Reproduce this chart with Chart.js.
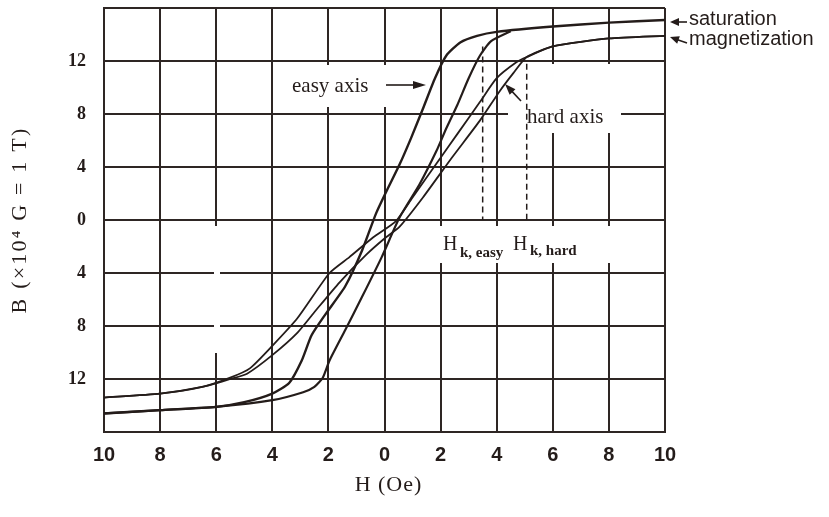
<!DOCTYPE html>
<html><head><meta charset="utf-8">
<script src="https://cdn.jsdelivr.net/npm/chart.js@4.4.1/dist/chart.umd.min.js"></script>
<style>html,body{margin:0;padding:0;background:#fff;} canvas{display:block;}</style>
</head><body>
<canvas id="c" width="829" height="517"></canvas>
<script>
// ---- tick definitions ----
const X_TICKS = [-10,-8,-6,-4,-2,0,2,4,6,8,10];
const X_TICK_LABELS = ['10','8','6','4','2','0','2','4','6','8','10'];
const Y_TICKS = [-16,-12,-8,-4,0,4,8,12,16];
const Y_TICK_LABELS = ['','12','8','4','0','4','8','12',''];
const X_TITLE = 'H (Oe)';
const Y_TITLE = 'B (×10\u2074 G = 1 T)';

// ---- easy axis loop (H in Oe, B in 10^4 G) ----
const EASY_UPPER_H = [10, 8, 6, 4, 3.3, 2.7, 2.2, 1.8, 1.37, 0.95, 0.54, 0.1, -0.3, -0.8, -1.4, -2.1, -2.6, -2.95, -3.4, -4.0, -5.0, -6.0, -8.0, -10];
const EASY_UPPER_B = [15.1, 14.9, 14.6, 14.2, 13.9, 13.4, 12.4, 10.7, 8.4, 6.2, 4.2, 2.3, 0.5, -2.3, -5.0, -7.1, -8.7, -10.6, -12.3, -13.1, -13.75, -14.1, -14.35, -14.6];
const EASY_LOWER_H = [-10, -8, -6, -4, -2.9, -2.5, -2.2, -1.96, -1.4, -0.8, -0.1, 0.54, 1.25, 1.85, 2.2, 2.6, 3.0, 3.4, 3.8, 4.5];
const EASY_LOWER_B = [-14.6, -14.35, -14.1, -13.6, -13.0, -12.6, -11.9, -10.6, -8.3, -5.8, -2.8, 0.2, 2.7, 5.2, 6.9, 8.7, 10.7, 12.4, 13.5, 14.25];

// ---- hard axis loop ----
const HARD_UPPER_H = [10, 8, 6, 5.07, 4.7, 4.0, 3.4, 2.6, 2.0, 1.0, 0.4, -0.4, -1.25, -1.96, -3.1, -4.0, -4.8, -5.5, -6.5, -8, -10];
const HARD_UPPER_B = [13.9, 13.7, 13.1, 12.3, 11.9, 10.7, 8.9, 6.5, 4.7, 1.7, -0.1, -1.3, -2.8, -4.0, -7.4, -9.5, -11.2, -11.9, -12.6, -13.1, -13.4];
const HARD_LOWER_H = [-10, -8, -6.5, -5.5, -4.9, -4.0, -3.1, -2.4, -1.6, -0.64, 0.0, 0.54, 1.37, 2.4, 3.4, 4.1, 4.6, 5.07, 6, 8, 10];
const HARD_LOWER_B = [-13.4, -13.1, -12.6, -12.0, -11.6, -10.2, -8.5, -6.7, -4.7, -2.6, -1.4, -0.5, 1.7, 4.7, 7.5, 9.7, 11.1, 12.3, 13.1, 13.7, 13.9];

// ---- anisotropy field markers ----
const HK_EASY_H = [3.5, 3.5];
const HK_EASY_B = [13.1, 0];
const HK_HARD_H = [5.07, 5.07];
const HK_HARD_B = [11.8, 0];

const INK = '#241c1a';
const GRID = '#2e2624';

function pts(h, b) { return h.map((x, i) => ({ x: x, y: b[i] })); }

function curve(label, h, b, w) {
  return { label, data: pts(h, b), showLine: true, pointRadius: 0, borderColor: INK,
           borderWidth: w, tension: 0.2, fill: false };
}
function dashed(label, h, b) {
  return { label, data: pts(h, b), showLine: true, pointRadius: 0, borderColor: INK,
           borderWidth: 1.5, borderDash: [6, 4], fill: false };
}

function arrow(ctx, x1, y1, x2, y2, len, half) {
  const a = Math.atan2(y2 - y1, x2 - x1);
  ctx.beginPath(); ctx.moveTo(x1, y1);
  ctx.lineTo(x2 - Math.cos(a) * len * 0.8, y2 - Math.sin(a) * len * 0.8); ctx.stroke();
  ctx.beginPath();
  ctx.moveTo(x2, y2);
  ctx.lineTo(x2 - Math.cos(a) * len - Math.sin(a) * half, y2 - Math.sin(a) * len + Math.cos(a) * half);
  ctx.lineTo(x2 - Math.cos(a) * len + Math.sin(a) * half, y2 - Math.sin(a) * len - Math.cos(a) * half);
  ctx.closePath(); ctx.fill();
}

const annot = {
  id: 'annot',
  beforeDatasetsDraw(chart) {
    const ctx = chart.ctx;
    ctx.save();
    ctx.fillStyle = '#ffffff';
    ctx.fillRect(285, 65, 103, 42);   // easy axis label box
    ctx.fillRect(508, 64, 113, 69);   // hard axis label box
    ctx.fillRect(433, 226, 230, 37);  // Hk label box
    ctx.fillRect(214, 226, 6, 127);   // missing grid segment
    ctx.restore();
  },
  afterDraw(chart) {
    const ctx = chart.ctx;
    const ca = chart.chartArea;
    ctx.save();
    ctx.fillStyle = INK; ctx.strokeStyle = INK; ctx.lineWidth = 1.6;
    // axis titles
    ctx.textAlign = 'center'; ctx.textBaseline = 'middle';
    ctx.font = '22px "Liberation Serif", "DejaVu Serif", serif';
    try { ctx.letterSpacing = '1px'; } catch (e) {}
    ctx.fillText(X_TITLE, (ca.left + ca.right) / 2 + 4, 485);
    ctx.save();
    ctx.translate(20, (ca.top + ca.bottom) / 2);
    ctx.rotate(-Math.PI / 2);
    try { ctx.letterSpacing = '2.2px'; } catch (e) {}
    ctx.fillText(Y_TITLE, 0, 0);
    ctx.restore();
    try { ctx.letterSpacing = '0px'; } catch (e) {}

    ctx.textBaseline = 'alphabetic'; ctx.textAlign = 'left';
    ctx.font = '21px "Liberation Serif", "DejaVu Serif", serif';
    ctx.fillText('easy axis', 292, 92);
    ctx.fillText('hard axis', 527, 123);
    arrow(ctx, 386, 85, 426, 85, 13, 4);
    arrow(ctx, 521, 101, 505, 84, 11, 4);
    // Hk labels
    ctx.font = '20px "Liberation Serif", serif';
    ctx.fillText('H', 443, 250);
    ctx.fillText('H', 513, 250);
    ctx.font = 'bold 15px "Liberation Serif", serif';
    ctx.fillText('k, easy', 460, 257);
    ctx.fillText('k, hard', 530, 255);
    // right labels
    ctx.font = '20px "Liberation Sans", Arial, sans-serif';
    ctx.fillText('saturation', 689, 25);
    ctx.fillText('magnetization', 689, 45);
    arrow(ctx, 687, 22, 670, 22, 9, 4);
    arrow(ctx, 687, 43, 670, 37, 9, 4);
    ctx.restore();
  }
};

new Chart(document.getElementById('c').getContext('2d'), {
  type: 'scatter',
  data: {
    datasets: [
      dashed('Hk easy', HK_EASY_H, HK_EASY_B),
      dashed('Hk hard', HK_HARD_H, HK_HARD_B),
      curve('hard axis (upper)', HARD_UPPER_H, HARD_UPPER_B, 1.8),
      curve('hard axis (lower)', HARD_LOWER_H, HARD_LOWER_B, 1.8),
      curve('easy axis (upper)', EASY_UPPER_H, EASY_UPPER_B, 2.4),
      curve('easy axis (lower)', EASY_LOWER_H, EASY_LOWER_B, 2.2)
    ]
  },
  options: {
    responsive: false, animation: false, devicePixelRatio: 1,
    layout: { padding: { top: 8, right: 164, left: 0, bottom: 0 } },
    plugins: { legend: { display: false }, tooltip: { enabled: false } },
    scales: {
      x: {
        type: 'linear', min: -10, max: 10,
        afterBuildTicks: s => { s.ticks = X_TICKS.map(v => ({ value: v })); },
        ticks: {
          callback: v => X_TICK_LABELS[X_TICKS.indexOf(v)],
          font: { family: '"Liberation Sans Narrow", "Liberation Sans", Arial, sans-serif', size: 20, weight: 'bold' },
          color: INK, padding: 11, maxRotation: 0, minRotation: 0, autoSkip: false
        },
        grid: { color: GRID, lineWidth: 2, drawTicks: false },
        border: { color: GRID, width: 2 },
        title: { display: false, text: X_TITLE },
        afterFit: s => { s.height = 85; s.paddingLeft = 0; s.paddingRight = 0; }
      },
      y: {
        type: 'linear', min: -16, max: 16,
        afterBuildTicks: s => { s.ticks = Y_TICKS.map(v => ({ value: v })); },
        ticks: {
          callback: v => Y_TICK_LABELS[Y_TICKS.indexOf(v)],
          font: { family: '"Liberation Serif", serif', size: 18, weight: 'bold' },
          color: INK, padding: 18, autoSkip: false
        },
        grid: { color: GRID, lineWidth: 2, drawTicks: false },
        border: { color: GRID, width: 2 },
        title: { display: false, text: Y_TITLE },
        afterFit: s => { s.width = 104; s.paddingTop = 0; s.paddingBottom = 0; }
      }
    }
  },
  plugins: [annot]
});
</script>
</body></html>
